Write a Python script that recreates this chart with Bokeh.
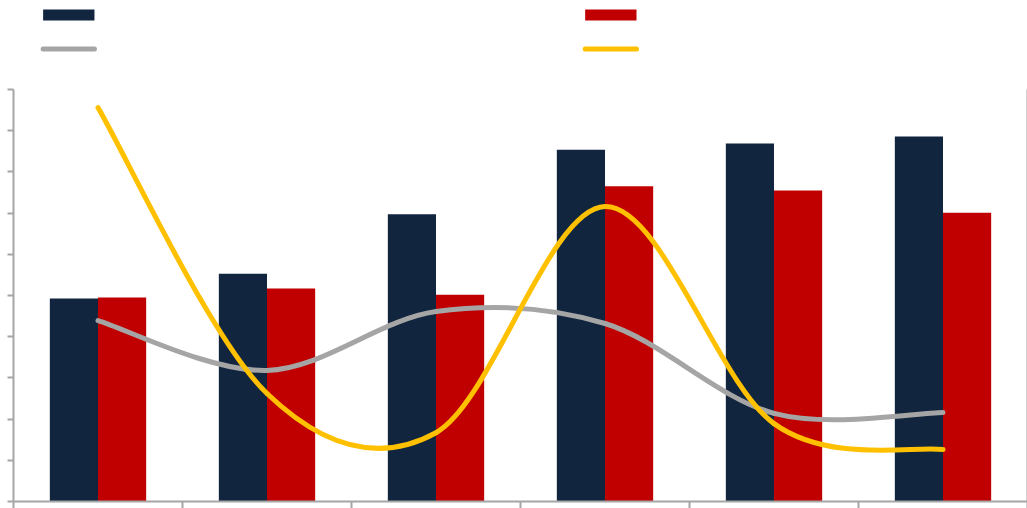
import numpy as np
from bokeh.plotting import figure
from bokeh.layouts import column
from bokeh.models import Range1d, LinearAxis, FixedTicker, CustomJSTickFormatter
from bokeh.embed import file_html
from bokeh.resources import INLINE

# ---- data ----
groups = [1, 2, 3, 4, 5, 6]
bars_navy = [4.93, 5.53, 6.97, 8.54, 8.69, 8.86]
bars_red = [4.95, 5.17, 5.02, 7.65, 7.55, 7.01]
line_grey = [4.39, 3.18, 4.61, 4.32, 2.14, 2.16]
line_yellow = [9.56, 2.62, 1.67, 7.16, 1.89, 1.26]
y_ticks = list(range(0, 11))
x_ticks = list(range(0, 7))

NAVY = "#11253F"
RED = "#C00000"
GREY = "#A5A5A5"
YELLOW = "#FFC000"
AXIS = "#A6A6A6"

centers = np.arange(len(groups)) + 0.5
bw = 0.285

# ---- main chart ----
p = figure(width=1027, height=420, x_range=Range1d(0, 6), y_range=Range1d(0, 10),
           toolbar_location=None, output_backend="svg",
           min_border_left=13, min_border_right=0, min_border_top=1, min_border_bottom=0,
           outline_line_color=None, background_fill_color="white", border_fill_color="white")
p.xgrid.visible = False
p.ygrid.visible = False

blank = CustomJSTickFormatter(code="return ''")

for ax in (p.xaxis[0], p.yaxis[0]):
    ax.axis_line_color = AXIS
    ax.axis_line_width = 2
    ax.major_tick_line_color = AXIS
    ax.major_tick_line_width = 2
    ax.major_tick_in = 0
    ax.minor_tick_line_color = None
    ax.formatter = blank
    ax.major_label_text_font_size = "1px"
    ax.major_label_standoff = 0
p.yaxis[0].ticker = FixedTicker(ticks=y_ticks)
p.yaxis[0].major_tick_out = 6
p.xaxis[0].ticker = FixedTicker(ticks=x_ticks)
p.xaxis[0].major_tick_out = 7

right = LinearAxis(ticker=FixedTicker(ticks=[]), formatter=blank,
                   axis_line_color=AXIS, axis_line_width=2,
                   major_tick_out=0, major_tick_in=0, minor_tick_line_color=None,
                   major_label_text_font_size="1px", major_label_standoff=0)
p.add_layout(right, "right")

p.vbar(x=centers - bw / 2, top=bars_navy, width=bw, bottom=0, fill_color=NAVY, line_color=None)
p.vbar(x=centers + bw / 2, top=bars_red, width=bw, bottom=0, fill_color=RED, line_color=None)


def smooth(xs, ys):
    n = len(xs)
    out = dict(x0=[], y0=[], x1=[], y1=[], cx0=[], cy0=[], cx1=[], cy1=[])
    for i in range(n - 1):
        a = max(i - 1, 0)
        d = min(i + 2, n - 1)
        out["x0"].append(xs[i]); out["y0"].append(ys[i])
        out["x1"].append(xs[i + 1]); out["y1"].append(ys[i + 1])
        out["cx0"].append(xs[i] + (xs[i + 1] - xs[a]) / 6)
        out["cy0"].append(ys[i] + (ys[i + 1] - ys[a]) / 6)
        out["cx1"].append(xs[i + 1] - (xs[d] - xs[i]) / 6)
        out["cy1"].append(ys[i + 1] - (ys[d] - ys[i]) / 6)
    return out


p.bezier(**smooth(list(centers), line_grey), line_color=GREY, line_width=5, line_cap="round")
p.bezier(**smooth(list(centers), line_yellow), line_color=YELLOW, line_width=5, line_cap="round")

# ---- legend strip (the reference legend keys carry no label text) ----
# pixel-space strip: x 0..1027 left to right, y 0..88 top to bottom
lg = figure(width=1027, height=88, x_range=Range1d(0, 1027), y_range=Range1d(88, 0),
            toolbar_location=None, output_backend="svg",
            x_axis_type=None, y_axis_type=None, min_border=0,
            outline_line_color=None, background_fill_color="white", border_fill_color="white")
lg.xgrid.visible = False
lg.ygrid.visible = False

key_cols = [56, 605]        # key centres of the two legend columns
bar_keys = [NAVY, RED]
line_keys = [GREY, YELLOW]
lg.quad(left=[c - 26 for c in key_cols], right=[c + 26 for c in key_cols],
        top=[9, 9], bottom=[20, 20], fill_color=bar_keys, line_color=None)
lg.segment(x0=[c - 26 for c in key_cols], x1=[c + 26 for c in key_cols],
           y0=[48.5, 48.5], y1=[48.5, 48.5], line_color=line_keys,
           line_width=5, line_cap="round")

layout = column(lg, p, spacing=0)
open("out.html", "w").write(file_html(layout, INLINE))
